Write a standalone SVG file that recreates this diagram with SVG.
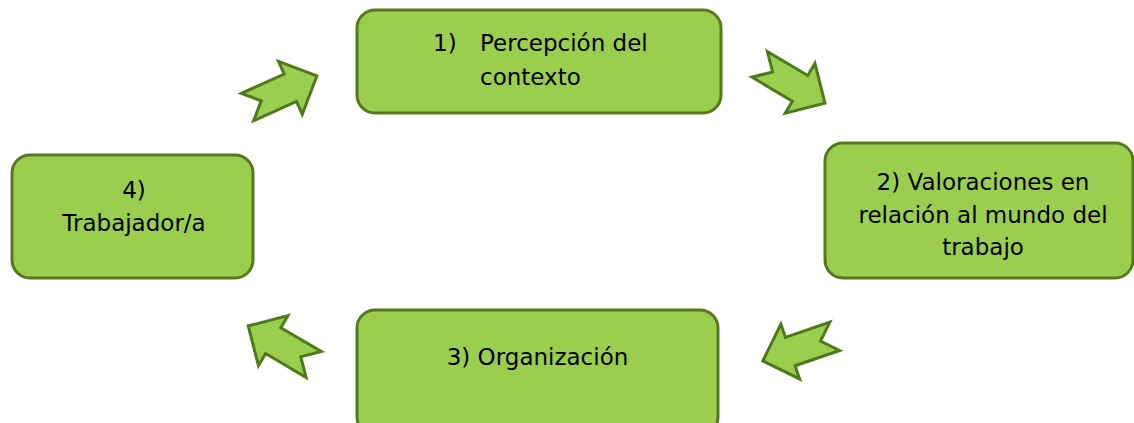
<svg xmlns="http://www.w3.org/2000/svg" width="1134" height="423" viewBox="0 0 1134 423">
<defs>
<style>
.box{fill:#9BCD4E;stroke:#56791F;stroke-width:3}
.arr{fill:#9BCD4E;stroke:#4F7A1B;stroke-width:3;stroke-linejoin:miter}
.t{font-family:"DejaVu Sans","Liberation Sans",sans-serif;font-size:23px;fill:#000}
.c{text-anchor:middle}
</style>
<path id="arrow" class="arr" d="M0,-15 L47,-15 L47,-29 L76,0 L47,29 L47,15 L0,15 L15,0 Z"/>
</defs>
<rect width="1134" height="423" fill="#fff"/>
<g id="connectors">
<use href="#arrow" transform="translate(247.5,107) rotate(-24.1)"/>
<use href="#arrow" transform="translate(759.7,64.3) rotate(30.8)"/>
<use href="#arrow" transform="translate(834.7,336.3) rotate(161.1)"/>
<use href="#arrow" transform="translate(313.7,364.5) rotate(-149.5)"/>
</g>
<g id="node1">
<rect class="box" x="357" y="10" width="364" height="103" rx="18"/>
<text class="t" x="433" y="51">1)</text>
<text class="t" x="480" y="51">Percepción del</text>
<text class="t" x="480" y="85">contexto</text>
</g>
<g id="node2">
<rect class="box" x="825" y="143" width="308" height="135" rx="18"/>
<text class="t c" x="983" y="190">2) Valoraciones en</text>
<text class="t c" x="983" y="223">relación al mundo del</text>
<text class="t c" x="983" y="255">trabajo</text>
</g>
<g id="node3">
<rect class="box" x="357" y="310" width="361" height="125" rx="18"/>
<text class="t c" x="537.5" y="365">3) Organización</text>
</g>
<g id="node4">
<rect class="box" x="12" y="155" width="241" height="123" rx="18"/>
<text class="t c" x="134" y="198">4)</text>
<text class="t c" x="134" y="231">Trabajador/a</text>
</g>
</svg>
